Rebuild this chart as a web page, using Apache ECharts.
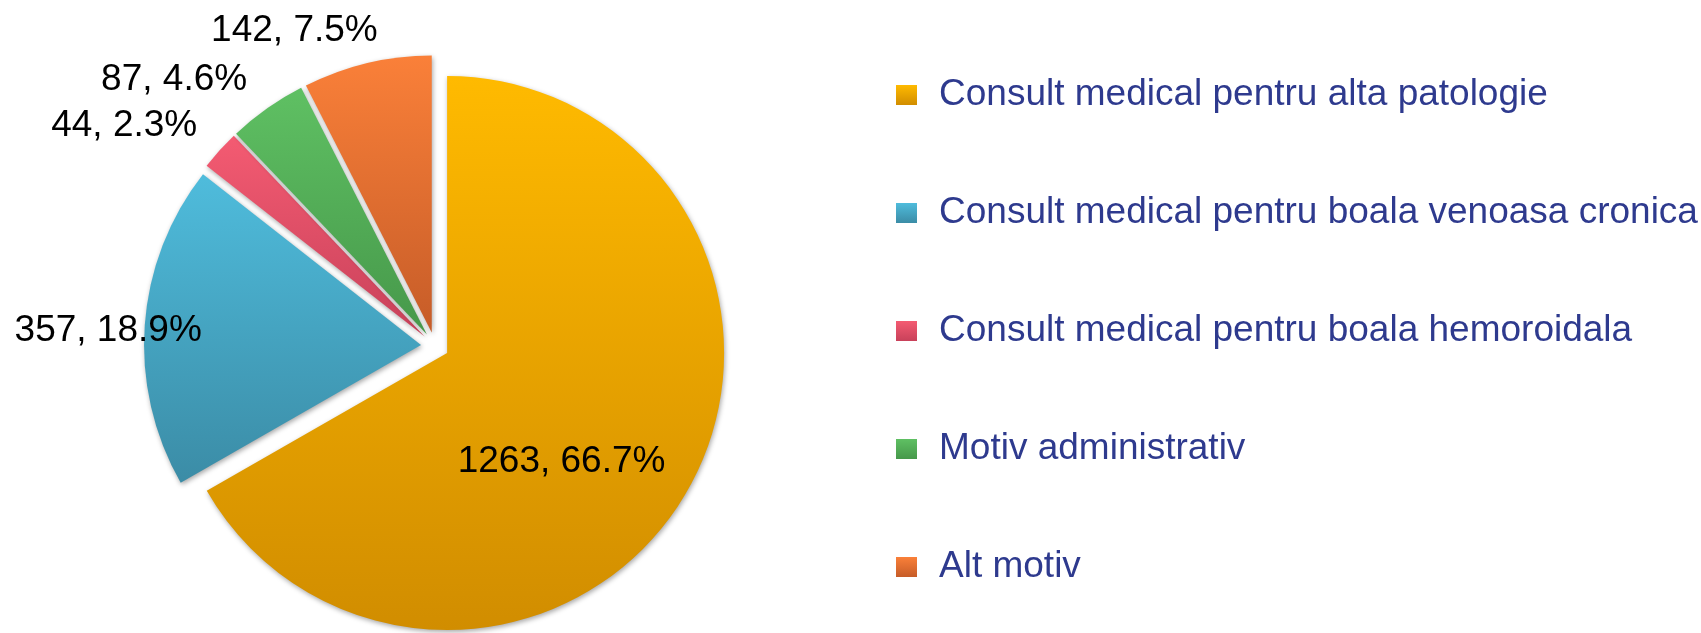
<!DOCTYPE html>
<html>
<head>
<meta charset="utf-8">
<script src="https://cdn.jsdelivr.net/npm/echarts@6/dist/echarts.min.js"></script>
<style>
  html, body { margin: 0; padding: 0; background: #fff; }
  #chart { width: 1701px; height: 633px; }
</style>
</head>
<body>
<div id="chart"></div>
<script>
const categories = [
  'Consult medical pentru alta patologie',
  'Consult medical pentru boala venoasa cronica',
  'Consult medical pentru boala hemoroidala',
  'Motiv administrativ',
  'Alt motiv'
];
const counts = [1263, 357, 44, 87, 142];

// top / bottom colour of each slice gradient
const topColors = ['#FFBA00', '#4FBCDC', '#F45B72', '#5FC063', '#FA8039'];
const bottomColors = ['#D18D00', '#3B8CA6', '#C8415A', '#46984A', '#C65C28'];

// nudges for labels, relative to where echarts puts them
const labelShift = [[-8, 38], [72, 7], [-10, -18], [-9, -20], [18, -23]];

const chart = echarts.init(document.getElementById('chart'));

// every slice is pulled out a little, like the excel original
const data = categories.map((name, i) => ({
  name: name,
  value: counts[i],
  selected: true,
  itemStyle: {
    color: new echarts.graphic.LinearGradient(0, 0, 0, 1, [
      { offset: 0, color: topColors[i] },
      { offset: 1, color: bottomColors[i] }
    ])
  },
  label: {
    position: i === 0 ? 'inside' : 'outside'
  }
}));

const option = {
  animation: false,
  legend: {
    orient: 'vertical',
    left: 891,
    top: 70,
    itemWidth: 21,
    itemHeight: 20,
    itemGap: 78,
    icon: 'rect',
    itemStyle: { shadowBlur: 0, shadowColor: 'transparent', borderWidth: 0 },
    textStyle: {
      fontFamily: 'Liberation Sans, Arial, sans-serif',
      fontSize: 37,
      lineHeight: 40,
      color: '#2E3A8E',
      padding: [0, 0, 0, 17]
    },
    data: categories
  },
  series: [
    {
      type: 'pie',
      center: [435, 346],
      radius: 277,
      startAngle: 90,
      clockwise: true,
      percentPrecision: 1,
      selectedMode: 'multiple',
      selectedOffset: 14,
      avoidLabelOverlap: false,
      itemStyle: {
        borderWidth: 0,
        shadowBlur: 5,
        shadowColor: 'rgba(0,0,0,0.35)',
        shadowOffsetX: 1,
        shadowOffsetY: 2
      },
      label: {
        show: true,
        formatter: '{c}, {d}%',
        fontFamily: 'Liberation Sans, Arial, sans-serif',
        fontSize: 37,
        color: '#000'
      },
      labelLine: { show: false, length: 10, length2: 0 },
      labelLayout: (params) => ({
        dx: labelShift[params.dataIndex][0],
        dy: labelShift[params.dataIndex][1]
      }),
      emphasis: { disabled: true },
      data: data
    }
  ]
};

chart.setOption(option);
</script>
</body>
</html>
